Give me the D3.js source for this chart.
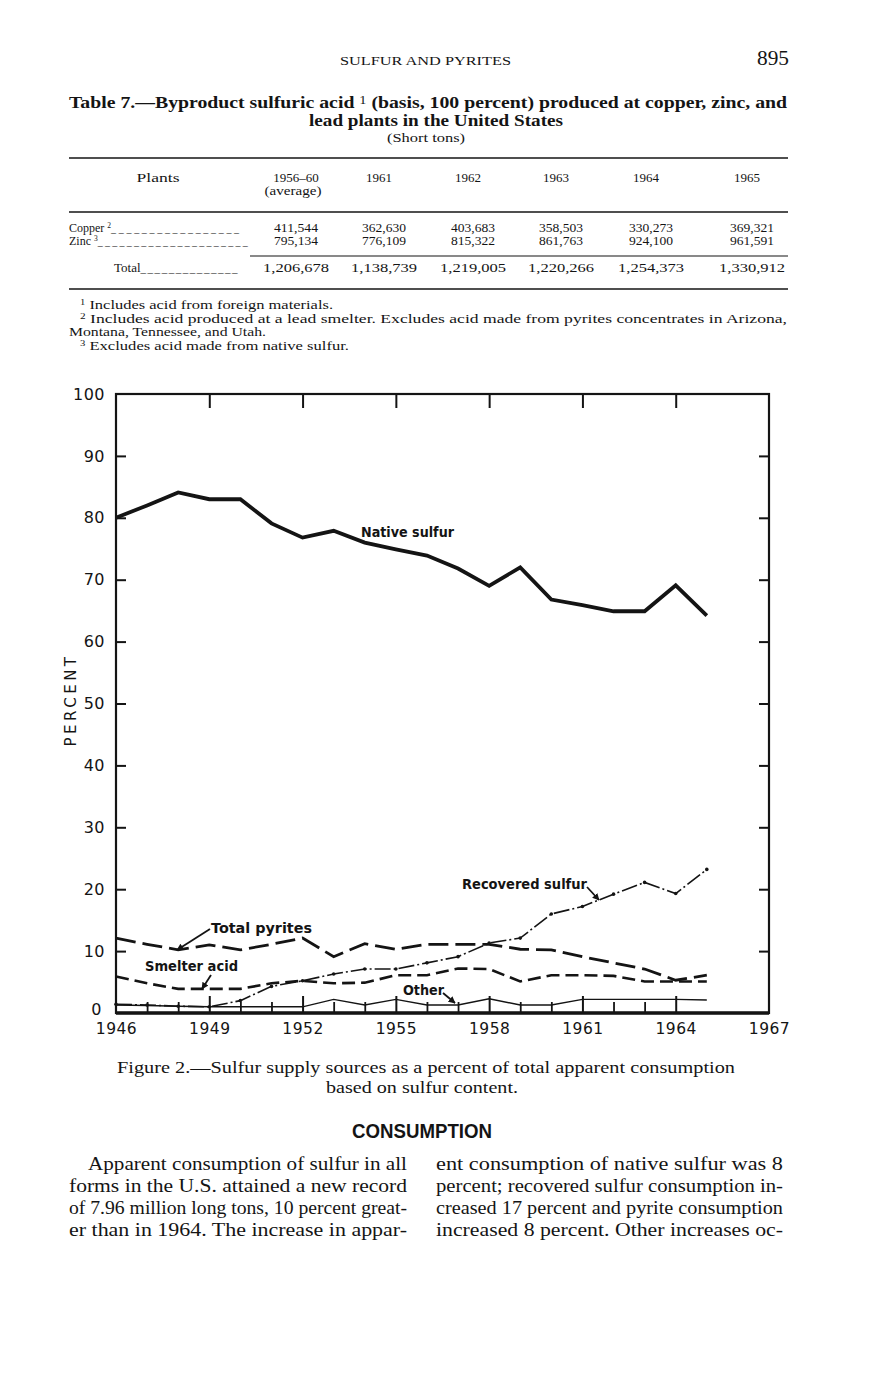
<!DOCTYPE html>
<html><head><meta charset="utf-8">
<script src="https://cdn.jsdelivr.net/npm/d3@7"></script>
<style>
html,body{margin:0;padding:0;background:#fff;}
svg{display:block;}
</style></head>
<body>
<svg id="page" width="876" height="1380"></svg>
<script>
// ---------------- data ----------------
const years = [1946,1947,1948,1949,1950,1951,1952,1953,1954,1955,1956,1957,1958,1959,1960,1961,1962,1963,1964,1965];
const nativeSulfur    = [80.0,82.0,84.1,83.0,83.0,79.1,76.8,77.9,76.0,74.9,73.9,71.8,69.0,72.0,66.8,65.9,64.9,64.9,69.1,64.2];
const totalPyrites    = [12.1,11.1,10.2,11.0,10.2,11.1,12.1,9.1,11.2,10.3,11.1,11.1,11.1,10.3,10.2,9.1,8.1,7.1,5.3,6.1];
const smelterAcid     = [5.9,4.8,3.9,3.9,3.9,4.8,5.2,4.8,4.9,6.1,6.1,7.2,7.1,5.1,6.1,6.1,6.0,5.1,5.1,5.1];
const recoveredSulfur = [1.4,1.3,1.1,1.0,2.0,4.3,5.2,6.3,7.1,7.1,8.1,9.1,11.3,12.1,16.0,17.2,19.2,21.1,19.3,23.2];
const otherSources    = [1.3,1.2,1.1,1.0,1.0,1.0,1.0,2.2,1.3,2.2,1.3,1.3,2.3,1.3,1.3,2.2,2.2,2.2,2.2,2.1];
const yTickValues = [0,10,20,30,40,50,60,70,80,90,100];
const xTickLabels = [1946,1949,1952,1955,1958,1961,1964,1967];
const xMinorTicks = [1947,1948,1950,1951,1953,1954,1956,1957,1959,1960,1962,1963];
const xMajorInnerTicks = [1949,1952,1955,1958,1961,1964];

const tableColumns = ["1956–60","1961","1962","1963","1964","1965"];
const copperRow = ["411,544","362,630","403,683","358,503","330,273","369,321"];
const zincRow   = ["795,134","776,109","815,322","861,763","924,100","961,591"];
const totalRow  = ["1,206,678","1,138,739","1,219,005","1,220,266","1,254,373","1,330,912"];

// ---------------- page ----------------
const svg = d3.select("#page");
const ink = "#141414";
const serif = "'Liberation Serif','DejaVu Serif',serif";
const sans = "'DejaVu Sans','Noto Sans',sans-serif";

function txt(x, y, s, opts = {}) {
  const t = svg.append("text").attr("x", x).attr("y", y).text(s)
    .attr("fill", ink)
    .attr("font-family", opts.family || serif)
    .attr("font-size", opts.size || 13)
    .attr("font-weight", opts.weight || "normal")
    .attr("text-anchor", opts.anchor || "start");
  if (opts.len) t.attr("textLength", opts.len).attr("lengthAdjust", "spacingAndGlyphs");
  if (opts.ls) t.attr("letter-spacing", opts.ls);
  return t;
}

// running head
txt(340, 65, "SULFUR AND PYRITES", {size: 11.5, len: 171});
txt(789, 65, "895", {size: 21, anchor: "end", len: 32});

// table title
const t1 = svg.append("text").attr("x", 69).attr("y", 108).attr("fill", ink)
  .attr("font-family", serif).attr("font-size", 16.5).attr("font-weight", "bold")
  .attr("textLength", 718).attr("lengthAdjust", "spacingAndGlyphs");
t1.append("tspan").text("Table 7.—Byproduct sulfuric acid ");
t1.append("tspan").text("1").attr("font-weight", "normal").attr("font-size", 12).attr("dy", -4);
t1.append("tspan").text(" (basis, 100 percent) produced at copper, zinc, and").attr("dy", 4);
txt(309, 126, "lead plants in the United States", {size: 16.5, weight: "bold", len: 254});
txt(387, 142, "(Short tons)", {size: 12.5, len: 78});

// table rules
svg.append("line").attr("x1", 69).attr("x2", 788).attr("y1", 158).attr("y2", 158).attr("stroke", ink).attr("stroke-width", 1.6);
svg.append("line").attr("x1", 69).attr("x2", 788).attr("y1", 212).attr("y2", 212).attr("stroke", ink).attr("stroke-width", 1.3);
svg.append("line").attr("x1", 250).attr("x2", 788).attr("y1", 256).attr("y2", 256).attr("stroke", ink).attr("stroke-width", 1.1);
svg.append("line").attr("x1", 69).attr("x2", 788).attr("y1", 289).attr("y2", 289).attr("stroke", ink).attr("stroke-width", 1.6);

const colCenters = [296, 384, 473, 561, 651, 752];
txt(158, 182, "Plants", {size: 13, anchor: "middle", len: 43});
tableColumns.forEach((c, i) => txt(colCenters[i] - (i === 0 ? 0 : 5), 182, c, {size: 13, anchor: "middle"}));
txt(293, 195, "(average)", {size: 13, anchor: "middle", len: 57});

const rowSize = 12;
const cop = txt(69, 232, "", {size: rowSize});
cop.append("tspan").text("Copper ");
cop.append("tspan").text("2").attr("font-size", 7.5).attr("dy", -4);
cop.append("tspan").text("_________________").attr("dy", 4).attr("font-size", 10).attr("textLength", 128).attr("lengthAdjust","spacing");
const zn = txt(69, 245, "", {size: rowSize});
zn.append("tspan").text("Zinc ");
zn.append("tspan").text("3").attr("font-size", 7.5).attr("dy", -4);
zn.append("tspan").text("_____________________").attr("dy", 4).attr("font-size", 10).attr("textLength", 150).attr("lengthAdjust","spacing");
const tt = txt(114, 272, "", {size: 13});
tt.append("tspan").text("Total");
tt.append("tspan").text("______________").attr("font-size", 11).attr("textLength", 97).attr("lengthAdjust","spacing");

copperRow.forEach((v, i) => txt(colCenters[i], 232, v, {size: 13, anchor: "middle", len: 44}).attr("font-size", rowSize));
zincRow.forEach((v, i) => txt(colCenters[i], 245, v, {size: 13, anchor: "middle", len: 44}).attr("font-size", rowSize));
totalRow.forEach((v, i) => txt(colCenters[i], 272, v, {size: 13, anchor: "middle", len: 66}));

// footnotes
function foot(x, y, sup, s, len) {
  const f = txt(x, y, "", {size: 12.5});
  if (len) f.attr("textLength", len).attr("lengthAdjust", "spacingAndGlyphs");
  if (sup) { f.append("tspan").text(sup).attr("font-size", 8).attr("dy", -4); f.append("tspan").text(" " + s).attr("dy", 4); }
  else f.text(s);
}
foot(80, 309, "1", "Includes acid from foreign materials.", 253);
foot(80, 323, "2", "Includes acid produced at a lead smelter.  Excludes acid made from pyrites concentrates in Arizona,", 707);
foot(69, 336, null, "Montana, Tennessee, and Utah.", 197);
foot(80, 350, "3", "Excludes acid made from native sulfur.", 269);

// ---------------- chart ----------------
const xs = d3.scaleLinear().domain([1946, 1967]).range([116, 769]);
const ys = d3.scaleLinear().domain([0, 100]).range([1013, 394]);
const g = svg.append("g");

function styleAxis(sel, w) {
  sel.select(".domain").remove();
  sel.selectAll(".tick line").attr("stroke", ink).attr("stroke-width", w || 2);
}

// left axis (inward ticks, labels outside)
const axLeft = g.append("g").attr("transform", `translate(${xs(1946)},0)`)
  .call(d3.axisLeft(ys).tickValues(yTickValues).tickSize(-10).tickPadding(11).tickFormat(d3.format("d")));
styleAxis(axLeft);
axLeft.selectAll(".tick text").attr("font-family", sans).attr("font-size", 16).attr("fill", ink).attr("letter-spacing", 0.5);
axLeft.selectAll(".tick text").filter(d => d === 0).attr("dy", "0.1em").attr("x", -14);
axLeft.selectAll(".tick line").filter(d => d === 0 || d === 100).remove();

// right axis
const axRight = g.append("g").attr("transform", `translate(${xs(1967)},0)`)
  .call(d3.axisRight(ys).tickValues(yTickValues.filter(d => d > 0 && d < 100)).tickSize(-10).tickFormat(""));
styleAxis(axRight);

// top axis
const axTop = g.append("g").attr("transform", `translate(0,${ys(100)})`)
  .call(d3.axisTop(xs).tickValues(xMajorInnerTicks).tickSize(-14).tickFormat(""));
styleAxis(axTop);

// bottom: labels
const axBot = g.append("g").attr("transform", `translate(0,${ys(0)})`)
  .call(d3.axisBottom(xs).tickValues(xTickLabels).tickSize(0).tickPadding(10).tickFormat(d3.format("d")));
styleAxis(axBot);
axBot.selectAll(".tick text").attr("font-family", sans).attr("font-size", 15.5).attr("fill", ink).attr("letter-spacing", 0.5);
// bottom inner ticks
const axBotMinor = g.append("g").attr("transform", `translate(0,${ys(0)})`)
  .call(d3.axisBottom(xs).tickValues(xMinorTicks).tickSize(-11).tickFormat(""));
styleAxis(axBotMinor, 1.8);
const axBotMajor = g.append("g").attr("transform", `translate(0,${ys(0)})`)
  .call(d3.axisBottom(xs).tickValues(xMajorInnerTicks).tickSize(-17).tickFormat(""));
styleAxis(axBotMajor, 2);

// frame
g.append("rect").attr("x", xs(1946)).attr("y", ys(100)).attr("width", xs(1967) - xs(1946)).attr("height", ys(0) - ys(100))
  .attr("fill", "none").attr("stroke", ink).attr("stroke-width", 2.2);
g.append("line").attr("x1", xs(1946)).attr("x2", xs(1967)).attr("y1", ys(0)).attr("y2", ys(0)).attr("stroke", ink).attr("stroke-width", 3.5);

// y title
svg.append("text").attr("transform", `translate(76,700) rotate(-90)`).attr("text-anchor", "middle")
  .attr("font-family", sans).attr("font-size", 15).attr("letter-spacing", 3.5).attr("fill", ink).text("PERCENT");

// series
const lineGen = d3.line().x((d, i) => xs(years[i])).y(d => ys(d));
function series(data, width, dash) {
  const p = g.append("path").datum(data).attr("d", lineGen).attr("fill", "none")
    .attr("stroke", ink).attr("stroke-width", width).attr("stroke-linejoin", "miter");
  if (dash) p.attr("stroke-dasharray", dash);
  return p;
}
series(otherSources, 1.4);
series(smelterAcid, 2.6, "13,6");
series(totalPyrites, 2.8, "20,7");
series(recoveredSulfur, 1.6, "16,3,2,3");
g.selectAll("circle.rec").data(recoveredSulfur).join("circle").attr("class", "rec")
  .attr("cx", (d, i) => xs(years[i])).attr("cy", d => ys(d)).attr("r", 1.8).attr("fill", ink);
series(nativeSulfur, 3.8);

// labels
function lab(x0, y0, s, len) {
  svg.append("text").attr("x", x0).attr("y", y0).text(s).attr("fill", ink)
    .attr("font-family", sans).attr("font-size", 14).attr("font-weight", "bold")
    .attr("textLength", len).attr("lengthAdjust", "spacingAndGlyphs");
}
lab(361, 537, "Native sulfur", 93);
lab(462, 889, "Recovered sulfur", 125);
lab(211, 933, "Total pyrites", 101);
lab(145, 971, "Smelter acid", 93);
lab(403, 995, "Other", 41);

// arrows
const defs = svg.append("defs");
defs.append("marker").attr("id", "ah").attr("viewBox", "0 0 10 10").attr("refX", 9).attr("refY", 5)
  .attr("markerWidth", 7).attr("markerHeight", 7).attr("orient", "auto-start-reverse").attr("markerUnits", "userSpaceOnUse")
  .append("path").attr("d", "M0,0 L10,5 L0,10 z").attr("fill", ink);
function arrow(x1, y1, x2, y2) {
  svg.append("line").attr("x1", x1).attr("y1", y1).attr("x2", x2).attr("y2", y2)
    .attr("stroke", ink).attr("stroke-width", 1.8).attr("marker-end", "url(#ah)");
}
arrow(210, 929, 177, 950);
arrow(211, 975, 202, 989);
arrow(443, 993, 455, 1003);
arrow(587, 887, 599, 900);

// caption
txt(117, 1073, "Figure 2.—Sulfur supply sources as a percent of total apparent consumption", {size: 17.5, len: 618});
txt(326, 1093, "based on sulfur content.", {size: 17.5, len: 192});

// heading
txt(352, 1138, "CONSUMPTION", {family: "'Liberation Sans','Arial',sans-serif", size: 21, weight: "bold", len: 140});

// body text
const leftLines = [
  [88, "Apparent consumption of sulfur in all"],
  [69, "forms in the U.S. attained a new record"],
  [69, "of 7.96 million long tons, 10 percent great-"],
  [69, "er than in 1964.  The increase in appar-"]
];
const rightLines = [
  "ent consumption of native sulfur was 8",
  "percent; recovered sulfur consumption in-",
  "creased 17 percent and pyrite consumption",
  "increased 8 percent.  Other increases oc-"
];
leftLines.forEach((l, i) => txt(l[0], 1170 + i * 22, l[1], {size: 18, len: 407 - l[0]}));
rightLines.forEach((l, i) => txt(436, 1170 + i * 22, l, {size: 18, len: 347}));
</script>
</body></html>
